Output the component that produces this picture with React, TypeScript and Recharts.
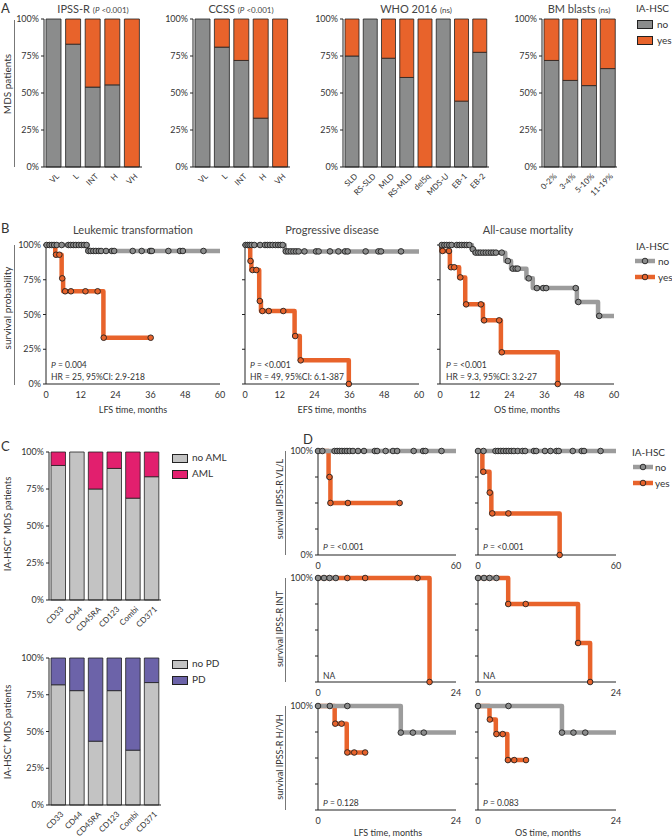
import React from 'react'
import { BarChart, Bar, XAxis, YAxis, ComposedChart, Line, Scatter } from 'recharts'

const FONT = 'Lato, "Open Sans", sans-serif'
const ORANGE = '#e8632b'
const GRAY = '#8b8c8c'
const GRAY_LINE = '#9c9c9c'
const LIGHT = '#c3c3c3'
const PINK = '#e21f6e'
const PURPLE = '#6c63a9'
const INK = '#333'

// ---- panel A: share of IA-HSC "no" per category (%)
const ipssCats = ['VL', 'L', 'INT', 'H', 'VH']
const ipssNo = [100, 83, 54, 55.5, 0]
const ccssCats = ['VL', 'L', 'INT', 'H', 'VH']
const ccssNo = [100, 81, 72, 33, 0]
const whoCats = ['SLD', 'RS-SLD', 'MLD', 'RS-MLD', 'del5q', 'MDS-U', 'EB-1', 'EB-2']
const whoNo = [75, 100, 73.5, 60.5, 0, 100, 44.5, 77.5]
const blastCats = ['0-2%', '3-4%', '5-10%', '11-19%']
const blastNo = [72, 58.5, 55, 66.5]

// ---- panel C
const markerCats = ['CD33', 'CD44', 'CD45RA', 'CD123', 'Combi', 'CD371']
const noAml = [90.9, 100, 75, 88.9, 68.8, 83.3]
const noPd = [81.8, 77.8, 43.4, 77.8, 37.3, 83.3]

// ---- panel B: KM curves [months, survival]
const lfsNoSteps = [[0, 1], [14.3, 0.957], [60, 0.957]]
const lfsNoMarks = [[0.2, 1], [1.2, 1], [2, 1], [2.8, 1], [3.7, 1], [5.4, 1], [7.7, 1], [8.5, 1], [9.4, 1], [10.3, 1], [11.3, 1], [12.2, 1], [13.1, 1], [14, 1],
  [14.6, 0.957], [15.4, 0.957], [16.3, 0.957], [17.2, 0.957], [18.2, 0.957], [19, 0.957], [20.7, 0.957], [22.7, 0.957], [23.5, 0.957], [29.9, 0.957], [33, 0.957], [35.9, 0.957], [36.5, 0.957], [42.2, 0.957], [46.2, 0.957], [47.2, 0.957], [54.3, 0.957]]
const lfsYesSteps = [[0, 1], [3.2, 0.93], [5.4, 0.76], [5.9, 0.667], [19.8, 0.333], [36.1, 0.333]]
const lfsYesMarks = [[3.45, 0.93], [4.6, 0.93], [5.6, 0.76], [6.6, 0.667], [8.6, 0.667], [13.6, 0.667], [17.8, 0.667], [19.9, 0.333], [36.1, 0.333]]

const efsNoSteps = [[0, 1], [13.7, 0.954], [60, 0.954]]
const efsNoMarks = [[0.2, 1], [0.9, 1], [1.6, 1], [2.3, 1], [3.2, 1], [5.2, 1], [6.9, 1], [7.7, 1], [8.6, 1], [9.5, 1], [10.5, 1], [11.4, 1], [12.2, 1], [13, 1],
  [14.1, 0.954], [14.9, 0.954], [15.8, 0.954], [16.7, 0.954], [17.6, 0.954], [18.5, 0.954], [20.5, 0.954], [24.5, 0.954], [25.4, 0.954], [29.3, 0.954], [32.2, 0.954], [34.5, 0.954], [35.4, 0.954], [41.6, 0.954], [46, 0.954], [46.9, 0.954], [53.8, 0.954]]
const efsYesSteps = [[0, 1], [1.8, 0.885], [2.2, 0.82], [4.9, 0.597], [5.5, 0.525], [17.1, 0.345], [18.9, 0.17], [35.8, 0]]
const efsYesMarks = [[1.9, 0.885], [2.6, 0.82], [3.9, 0.82], [5.1, 0.597], [6, 0.525], [8.2, 0.525], [13.2, 0.525], [17.3, 0.345], [19.2, 0.17], [35.8, 0]]

const osNoSteps = [[0, 1], [11, 0.97], [11.8, 0.945], [22.5, 0.885], [24.5, 0.83], [29.8, 0.76], [32, 0.69], [47.2, 0.59], [54.5, 0.49], [60, 0.49]]
const osNoMarks = [[0.6, 1], [1.5, 1], [2.3, 1], [3.2, 1], [4, 1], [5.8, 1], [6.7, 1], [7.5, 1], [8.4, 1], [9.2, 1], [10.1, 1], [11.3, 0.97],
  [12.3, 0.945], [13.2, 0.945], [14, 0.945], [14.9, 0.945], [15.8, 0.945], [16.7, 0.945], [17.6, 0.945], [18.4, 0.945], [19.3, 0.945], [21.3, 0.945],
  [23.4, 0.885], [25.1, 0.83], [26.1, 0.83], [26.8, 0.83], [30.6, 0.76], [33.4, 0.69], [35.6, 0.69], [36.6, 0.69], [46.8, 0.69], [47.7, 0.59], [54.9, 0.49]]
const osYesSteps = [[0, 1], [0.5, 0.957], [3.4, 0.84], [6.6, 0.767], [8.7, 0.573], [14.8, 0.458], [21, 0.228], [40.6, 0]]
const osYesMarks = [[0.9, 0.957], [3.1, 0.957], [3.8, 0.84], [4.9, 0.84], [7, 0.767], [9, 0.573], [14.1, 0.573], [15.2, 0.458], [20.4, 0.458], [21.3, 0.228], [40.6, 0]]

// ---- panel D: by IPSS-R group
const lowLfsNoSteps = [[0, 1], [60, 1]]
const lowLfsNoMarks = [[0, 1], [1.9, 1], [7.2, 1], [8.3, 1], [9.4, 1], [10.4, 1], [11.6, 1], [12.6, 1], [13.8, 1], [15.2, 1], [17.4, 1], [20, 1], [24.7, 1], [25.7, 1], [29.4, 1], [32.6, 1], [34.4, 1], [41.6, 1], [45.7, 1], [46.7, 1], [53.7, 1]]
const lowLfsYesSteps = [[0, 1], [4.6, 0.75], [5.4, 0.5], [35.5, 0.5]]
const lowLfsYesMarks = [[5, 0.75], [5.4, 0.5], [13, 0.5], [35.5, 0.5]]
const lowOsNoSteps = [[0, 1], [60, 1]]
const lowOsNoMarks = [[0, 1], [2.4, 1], [7.6, 1], [8.7, 1], [9.9, 1], [11, 1], [12.2, 1], [13.3, 1], [14.5, 1], [15.6, 1], [17.3, 1], [19.3, 1], [20.5, 1], [24.3, 1], [25.3, 1], [29.1, 1], [31.5, 1], [34.1, 1], [35.1, 1], [41.2, 1], [45.1, 1], [46.1, 1], [53.3, 1]]
const lowOsYesSteps = [[0, 1], [1.9, 0.8], [5, 0.6], [5.8, 0.4], [35.5, 0]]
const lowOsYesMarks = [[2.3, 0.8], [5.1, 0.6], [6.2, 0.4], [13.2, 0.4], [35.5, 0]]

const intLfsNoSteps = [[0, 1], [3.1, 1]]
const intLfsNoMarks = [[0, 1], [1.05, 1], [2, 1], [3.1, 1]]
const intLfsYesSteps = [[0, 1], [19.4, 0]]
const intLfsYesMarks = [[5.1, 1], [8.2, 1], [17.3, 1], [19.4, 0]]
const intOsNoSteps = [[0, 1], [3.2, 1]]
const intOsNoMarks = [[0, 1], [1.05, 1], [2, 1], [3.2, 1]]
const intOsYesSteps = [[0, 1], [5.25, 0.75], [17.4, 0.375], [19.5, 0]]
const intOsYesMarks = [[5.25, 0.75], [8.3, 0.75], [17.4, 0.375], [19.5, 0]]

const highLfsNoSteps = [[0, 1], [14.4, 0.744], [24, 0.744]]
const highLfsNoMarks = [[0, 1], [2.06, 1], [5.1, 1], [14.4, 0.744], [16.5, 0.744], [18.4, 0.744]]
const highLfsYesSteps = [[0, 1], [2.9, 0.83], [5, 0.553], [8.2, 0.553]]
const highLfsYesMarks = [[3, 0.83], [4.1, 0.83], [5.1, 0.553], [6.3, 0.553], [8.2, 0.553]]
const highOsNoSteps = [[0, 1], [14.6, 0.744], [24, 0.744]]
const highOsNoMarks = [[0, 1], [5.3, 1], [14.6, 0.744], [16.6, 0.744], [18.65, 0.744]]
const highOsYesSteps = [[0, 1], [2, 0.87], [3.1, 0.73], [5.1, 0.48], [8.35, 0.48]]
const highOsYesMarks = [[2.06, 0.87], [3.2, 0.73], [4.3, 0.73], [5.2, 0.48], [6.3, 0.48], [8.35, 0.48]]

const toPts = (a: number[][]) => a.map(([t, s]) => ({ t, s }))

const AngleTick = (props: any) => {
  const { x, y, payload } = props
  return (
    <g transform={`translate(${x + 3},${y - 1})`}>
      <text x={0} y={0} dy={4} textAnchor="end" transform="rotate(-45)" fontSize={8} fill={INK} fontFamily={FONT}>
        {payload.value}
      </text>
    </g>
  )
}

function StackedBars({ x, y, w, h, cats, noVals, barSize, noColor, yesColor }: any) {
  const data = cats.map((c: string, i: number) => ({ name: c, no: noVals[i], yes: 100 - noVals[i] }))
  const yw = 34
  const mt = 5
  const mr = 3
  const xh = 45
  return (
    <div style={{ position: 'absolute', left: x - yw, top: y - mt }}>
      <BarChart width={w + yw + mr} height={h + mt + xh} data={data} margin={{ top: mt, right: mr, bottom: 0, left: 0 }}>
        <XAxis dataKey="name" height={xh} tickLine={false} interval={0} axisLine={{ stroke: '#222' }} tick={<AngleTick />} />
        <YAxis width={yw} domain={[0, 100]} ticks={[0, 25, 50, 75, 100]} tickFormatter={(v) => `${v}%`}
          tick={{ fontSize: 9, fill: INK, fontFamily: FONT }} tickSize={3} axisLine={{ stroke: '#222' }} tickLine={{ stroke: '#222' }} />
        <Bar dataKey="no" stackId="a" fill={noColor} stroke="#222" strokeWidth={0.8} barSize={barSize} isAnimationActive={false} />
        <Bar dataKey="yes" stackId="a" fill={yesColor} stroke="#222" strokeWidth={0.8} barSize={barSize} isAnimationActive={false} />
      </BarChart>
    </div>
  )
}

const dotShape = (fill: string) => (p: any) => (
  <circle cx={p.cx} cy={p.cy} r={2.8} fill={fill} stroke="#222" strokeWidth={0.9} />
)

function KM({ x, y, w, h, xMax, xTicks, yMode, noSteps, noMarks, yesSteps, yesMarks }: any) {
  const yw = 34
  const mt = 6
  const mr = 6
  const xh = 20
  const fmt = (v: number) => {
    if (yMode === 'all') return `${Math.round(v * 100)}%`
    if (yMode === 'ends') return v === 1 ? '100%' : v === 0 ? '0%' : ''
    if (yMode === 'top') return v === 1 ? '100%' : ''
    return ''
  }
  return (
    <div style={{ position: 'absolute', left: x - yw, top: y - mt }}>
      <ComposedChart width={w + yw + mr} height={h + mt + xh} margin={{ top: mt, right: mr, bottom: 0, left: 0 }}>
        <XAxis type="number" dataKey="t" domain={[0, xMax]} ticks={xTicks} interval={0} height={xh} tickLine={false}
          axisLine={{ stroke: '#222' }} tick={{ fontSize: 9, fill: INK, fontFamily: FONT }} />
        <YAxis type="number" dataKey="s" domain={[0, 1]} ticks={[0, 0.25, 0.5, 0.75, 1]} width={yw} tickSize={3}
          tickFormatter={fmt} axisLine={{ stroke: '#222' }} tickLine={{ stroke: '#222' }} tick={{ fontSize: 9, fill: INK, fontFamily: FONT }} />
        <Line data={toPts(yesSteps)} dataKey="s" type="stepAfter" stroke={ORANGE} strokeWidth={4.5} strokeLinejoin="round" dot={false} isAnimationActive={false} />
        <Line data={toPts(noSteps)} dataKey="s" type="stepAfter" stroke={GRAY_LINE} strokeWidth={4.5} strokeLinejoin="round" dot={false} isAnimationActive={false} />
        <Scatter data={toPts(yesMarks)} shape={dotShape(ORANGE)} isAnimationActive={false} />
        <Scatter data={toPts(noMarks)} shape={dotShape(GRAY)} isAnimationActive={false} />
      </ComposedChart>
    </div>
  )
}

const Txt = ({ x, y, size = 9, center = false, color = INK, children, style }: any) => (
  <div style={{
    position: 'absolute', left: x, top: y, fontSize: size, lineHeight: 1, color, whiteSpace: 'nowrap',
    transform: center ? 'translate(-50%,-50%)' : 'translateY(-50%)', ...style,
  }}>{children}</div>
)

const VLabel = ({ x, y, size = 9.5, children }: any) => (
  <div style={{
    position: 'absolute', left: x, top: y, fontSize: size, lineHeight: 1, color: INK, whiteSpace: 'nowrap',
    transform: 'translate(-50%,-50%) rotate(-90deg)',
  }}>{children}</div>
)

const VRule = ({ x, y1, y2 }: any) => (
  <div style={{ position: 'absolute', left: x, top: y1, width: 1.5, height: y2 - y1, background: '#777' }} />
)

const Box = ({ x, y, fill }: any) => (
  <div style={{ position: 'absolute', left: x, top: y - 4, width: 14, height: 7, background: fill, border: '1px solid #222' }} />
)

const LineKey = ({ x, y, color, dot }: any) => (
  <svg style={{ position: 'absolute', left: x, top: y - 5 }} width={20} height={10}>
    <line x1={0} y1={5} x2={20} y2={5} stroke={color} strokeWidth={4.5} />
    <circle cx={10} cy={5} r={2.8} fill={dot} stroke="#222" strokeWidth={0.9} />
  </svg>
)

const Title = ({ x, y, main, note, italicP = false }: any) => (
  <Txt x={x} y={y} size={11} center color="#444">
    {main}{' '}
    <span style={{ fontSize: 8 }}>
      {italicP ? <>(<i>P</i> &lt;0.001)</> : note}
    </span>
  </Txt>
)

const PText = ({ x, y, value }: any) => (
  <Txt x={x} y={y} size={8.5}><i>P</i> = {value}</Txt>
)

export default function App() {
  return (
    <div style={{ position: 'absolute', left: 0, top: 0, width: 672, height: 839, background: '#fff', fontFamily: FONT, overflow: 'hidden' }}>
      {/* A */}
      <Txt x={1} y={8} size={13}>A</Txt>
      <VLabel x={7} y={84} size={10}>MDS patients</VLabel>
      <VRule x={13.5} y1={20} y2={167} />
      <Title x={93} y={8} main="IPSS-R" italicP />
      <Title x={241} y={8} main="CCSS" italicP />
      <Title x={416} y={8} main="WHO 2016" note="(ns)" />
      <Title x={579} y={8} main="BM blasts" note="(ns)" />
      <StackedBars x={44} y={19} w={98} h={148} cats={ipssCats} noVals={ipssNo} barSize={15} noColor={GRAY} yesColor={ORANGE} />
      <StackedBars x={193} y={19} w={97} h={148} cats={ccssCats} noVals={ccssNo} barSize={15} noColor={GRAY} yesColor={ORANGE} />
      <StackedBars x={343} y={19} w={146} h={148} cats={whoCats} noVals={whoNo} barSize={14} noColor={GRAY} yesColor={ORANGE} />
      <StackedBars x={542} y={19} w={75} h={148} cats={blastCats} noVals={blastNo} barSize={15} noColor={GRAY} yesColor={ORANGE} />
      <Txt x={636} y={8} size={10}>IA-HSC</Txt>
      <Box x={637} y={24} fill={GRAY} />
      <Txt x={657} y={24} size={10}>no</Txt>
      <Box x={637} y={40} fill={ORANGE} />
      <Txt x={657} y={40} size={10}>yes</Txt>

      {/* B */}
      <Txt x={1} y={228} size={13}>B</Txt>
      <VLabel x={7} y={308} size={10}>survival probability</VLabel>
      <VRule x={13.5} y1={245} y2={385} />
      <Txt x={133} y={229} size={11} center color="#444">Leukemic transformation</Txt>
      <Txt x={332} y={229} size={11} center color="#444">Progressive disease</Txt>
      <Txt x={528} y={229} size={11} center color="#444">All-cause mortality</Txt>
      <KM x={46} y={245} w={174} h={139} xMax={60} xTicks={[0, 12, 24, 36, 48, 60]} yMode="all"
        noSteps={lfsNoSteps} noMarks={lfsNoMarks} yesSteps={lfsYesSteps} yesMarks={lfsYesMarks} />
      <KM x={245} y={245} w={174} h={139} xMax={60} xTicks={[0, 12, 24, 36, 48, 60]} yMode="none"
        noSteps={efsNoSteps} noMarks={efsNoMarks} yesSteps={efsYesSteps} yesMarks={efsYesMarks} />
      <KM x={440} y={245} w={174} h={139} xMax={60} xTicks={[0, 12, 24, 36, 48, 60]} yMode="none"
        noSteps={osNoSteps} noMarks={osNoMarks} yesSteps={osYesSteps} yesMarks={osYesMarks} />
      <PText x={51} y={365} value="0.004" />
      <Txt x={51} y={377} size={8.5}>HR = 25, 95%CI: 2.9-218</Txt>
      <PText x={250} y={365} value="<0.001" />
      <Txt x={250} y={377} size={8.5}>HR = 49, 95%CI: 6.1-387</Txt>
      <PText x={446} y={365} value="<0.001" />
      <Txt x={446} y={377} size={8.5}>HR = 9.3, 95%CI: 3.2-27</Txt>
      <Txt x={133} y={409} size={9} center>LFS time, months</Txt>
      <Txt x={332} y={409} size={9} center>EFS time, months</Txt>
      <Txt x={527} y={409} size={9} center>OS time, months</Txt>
      <Txt x={636} y={246} size={10}>IA-HSC</Txt>
      <LineKey x={635} y={261} color={GRAY_LINE} dot={GRAY} />
      <Txt x={658} y={261} size={10}>no</Txt>
      <LineKey x={635} y={277} color={ORANGE} dot={ORANGE} />
      <Txt x={658} y={277} size={10}>yes</Txt>

      {/* C */}
      <Txt x={1} y={446} size={13}>C</Txt>
      <VLabel x={7} y={524} size={9.5}>IA-HSC<sup style={{ fontSize: 6 }}>+</sup> MDS patients</VLabel>
      <VLabel x={7} y={732} size={9.5}>IA-HSC<sup style={{ fontSize: 6 }}>+</sup> MDS patients</VLabel>
      <StackedBars x={49} y={452} w={112} h={148} cats={markerCats} noVals={noAml} barSize={14.5} noColor={LIGHT} yesColor={PINK} />
      <StackedBars x={48.5} y={658} w={112} h={147} cats={markerCats} noVals={noPd} barSize={14.5} noColor={LIGHT} yesColor={PURPLE} />
      <Box x={172} y={458} fill={LIGHT} />
      <Txt x={192} y={457} size={10}>no AML</Txt>
      <Box x={172} y={474} fill={PINK} />
      <Txt x={192} y={473} size={10}>AML</Txt>
      <Box x={172} y={664} fill={LIGHT} />
      <Txt x={192} y={663} size={10}>no PD</Txt>
      <Box x={172} y={680} fill={PURPLE} />
      <Txt x={192} y={679} size={10}>PD</Txt>

      {/* D */}
      <Txt x={303} y={439} size={13}>D</Txt>
      <VLabel x={279} y={499} size={9}>survival IPSS-R VL/L</VLabel>
      <VLabel x={279} y={629} size={9}>survival IPSS-R INT</VLabel>
      <VLabel x={279} y={757} size={9}>survival IPSS-R H/VH</VLabel>
      <VRule x={284.5} y1={451} y2={555} />
      <VRule x={284.5} y1={578} y2={682} />
      <VRule x={284.5} y1={706} y2={810} />
      <KM x={318} y={451} w={138} h={104} xMax={60} xTicks={[0, 60]} yMode="ends"
        noSteps={lowLfsNoSteps} noMarks={lowLfsNoMarks} yesSteps={lowLfsYesSteps} yesMarks={lowLfsYesMarks} />
      <KM x={478} y={451} w={138} h={104} xMax={60} xTicks={[0, 60]} yMode="none"
        noSteps={lowOsNoSteps} noMarks={lowOsNoMarks} yesSteps={lowOsYesSteps} yesMarks={lowOsYesMarks} />
      <KM x={318} y={578} w={138} h={104} xMax={24} xTicks={[0, 24]} yMode="top"
        noSteps={intLfsNoSteps} noMarks={intLfsNoMarks} yesSteps={intLfsYesSteps} yesMarks={intLfsYesMarks} />
      <KM x={478} y={578} w={138} h={104} xMax={24} xTicks={[0, 24]} yMode="none"
        noSteps={intOsNoSteps} noMarks={intOsNoMarks} yesSteps={intOsYesSteps} yesMarks={intOsYesMarks} />
      <KM x={318} y={706} w={138} h={104} xMax={24} xTicks={[0, 24]} yMode="top"
        noSteps={highLfsNoSteps} noMarks={highLfsNoMarks} yesSteps={highLfsYesSteps} yesMarks={highLfsYesMarks} />
      <KM x={478} y={706} w={138} h={104} xMax={24} xTicks={[0, 24]} yMode="none"
        noSteps={highOsNoSteps} noMarks={highOsNoMarks} yesSteps={highOsYesSteps} yesMarks={highOsYesMarks} />
      <PText x={323} y={547} value="<0.001" />
      <PText x={483} y={547} value="<0.001" />
      <Txt x={323} y={676} size={8.5}>NA</Txt>
      <Txt x={483} y={676} size={8.5}>NA</Txt>
      <PText x={323} y={803} value="0.128" />
      <PText x={483} y={803} value="0.083" />
      <Txt x={388} y={832} size={9} center>LFS time, months</Txt>
      <Txt x={548} y={832} size={9} center>OS time, months</Txt>
      <Txt x={632} y={452} size={10}>IA-HSC</Txt>
      <LineKey x={633} y={467} color={GRAY_LINE} dot={GRAY} />
      <Txt x={655} y={467} size={10}>no</Txt>
      <LineKey x={633} y={483} color={ORANGE} dot={ORANGE} />
      <Txt x={655} y={483} size={10}>yes</Txt>
    </div>
  )
}
